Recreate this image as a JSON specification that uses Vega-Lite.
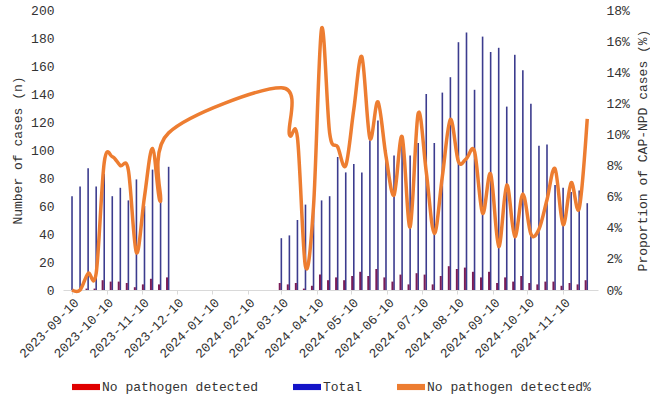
{
  "$schema": "https://vega.github.io/schema/vega-lite/v6.json",
  "width": 535,
  "height": 280,
  "autosize": {"type": "none"},
  "padding": {"left": 63, "top": 10, "right": 52, "bottom": 109},
  "background": "white",
  "config": {
    "view": {"stroke": null},
    "font": "Liberation Mono",
    "axis": {"labelFont": "Liberation Mono", "titleFont": "Liberation Mono", "labelColor": "#333333", "titleColor": "#333333", "grid": false, "titleFontWeight": "normal", "labelOverlap": false}
  },
  "datasets": {
    "weekly": [
      {"date": "2023-09-10", "total": 67, "npd": 0, "pct": 0},
      {"date": "2023-09-17", "total": 74, "npd": 0, "pct": 0},
      {"date": "2023-09-24", "total": 87, "npd": 1, "pct": 1.07},
      {"date": "2023-10-01", "total": 74, "npd": 1, "pct": 1.07},
      {"date": "2023-10-08", "total": 83, "npd": 7, "pct": 8.2},
      {"date": "2023-10-15", "total": 67, "npd": 6, "pct": 8.57},
      {"date": "2023-10-22", "total": 73, "npd": 6, "pct": 8.0},
      {"date": "2023-10-29", "total": 64, "npd": 5, "pct": 7.7},
      {"date": "2023-11-05", "total": 79, "npd": 2, "pct": 2.4},
      {"date": "2023-11-12", "total": 60, "npd": 4, "pct": 6.0},
      {"date": "2023-11-19", "total": 86, "npd": 8, "pct": 9.1},
      {"date": "2023-11-26", "total": 63, "npd": 4, "pct": 5.7},
      {"date": "2023-12-03", "total": 88, "npd": 9, "pct": 10.1},
      {"date": "2024-03-10", "total": 37, "npd": 5, "pct": 13.0},
      {"date": "2024-03-17", "total": 39, "npd": 4, "pct": 10.0},
      {"date": "2024-03-24", "total": 50, "npd": 5, "pct": 9.8},
      {"date": "2024-03-31", "total": 61, "npd": 1, "pct": 1.5},
      {"date": "2024-04-07", "total": 58, "npd": 3, "pct": 5.4},
      {"date": "2024-04-14", "total": 64, "npd": 11, "pct": 16.8},
      {"date": "2024-04-21", "total": 67, "npd": 7, "pct": 10.1},
      {"date": "2024-04-28", "total": 95, "npd": 9, "pct": 9.2},
      {"date": "2024-05-05", "total": 84, "npd": 7, "pct": 8.0},
      {"date": "2024-05-12", "total": 90, "npd": 10, "pct": 11.6},
      {"date": "2024-05-19", "total": 84, "npd": 13, "pct": 15.0},
      {"date": "2024-05-26", "total": 107, "npd": 10, "pct": 9.75},
      {"date": "2024-06-02", "total": 121, "npd": 15, "pct": 12.1},
      {"date": "2024-06-09", "total": 100, "npd": 9, "pct": 8.6},
      {"date": "2024-06-16", "total": 96, "npd": 6, "pct": 6.1},
      {"date": "2024-06-23", "total": 108, "npd": 11, "pct": 9.86},
      {"date": "2024-06-30", "total": 96, "npd": 4, "pct": 4.05},
      {"date": "2024-07-07", "total": 105, "npd": 12, "pct": 11.36},
      {"date": "2024-07-14", "total": 140, "npd": 11, "pct": 7.6},
      {"date": "2024-07-21", "total": 105, "npd": 4, "pct": 3.64},
      {"date": "2024-07-28", "total": 141, "npd": 10, "pct": 7.3},
      {"date": "2024-08-04", "total": 152, "npd": 17, "pct": 10.97},
      {"date": "2024-08-11", "total": 177, "npd": 15, "pct": 8.25},
      {"date": "2024-08-18", "total": 184, "npd": 16, "pct": 8.46},
      {"date": "2024-08-25", "total": 143, "npd": 13, "pct": 8.9},
      {"date": "2024-09-01", "total": 181, "npd": 9, "pct": 4.93},
      {"date": "2024-09-08", "total": 170, "npd": 13, "pct": 7.46},
      {"date": "2024-09-15", "total": 173, "npd": 5, "pct": 2.79},
      {"date": "2024-09-22", "total": 131, "npd": 9, "pct": 6.75},
      {"date": "2024-09-29", "total": 168, "npd": 6, "pct": 3.43},
      {"date": "2024-10-06", "total": 157, "npd": 10, "pct": 6.17},
      {"date": "2024-10-13", "total": 133, "npd": 5, "pct": 3.6},
      {"date": "2024-10-20", "total": 103, "npd": 4, "pct": 3.9},
      {"date": "2024-10-27", "total": 104, "npd": 6, "pct": 5.8},
      {"date": "2024-11-03", "total": 75, "npd": 6, "pct": 7.8},
      {"date": "2024-11-10", "total": 73, "npd": 3, "pct": 4.2},
      {"date": "2024-11-17", "total": 70, "npd": 5, "pct": 6.9},
      {"date": "2024-11-24", "total": 71, "npd": 4, "pct": 5.25},
      {"date": "2024-12-01", "total": 62, "npd": 7, "pct": 11.0}
    ],
    "legendItems": [
      {"series": "No pathogen detected"},
      {"series": "Total"},
      {"series": "No pathogen detected%"}
    ]
  },
  "layer": [
    {
      "data": {"name": "weekly"},
      "encoding": {
        "x": {
          "field": "date",
          "type": "temporal",
          "scale": {
            "type": "utc",
            "domain": [
              {"year": 2023, "month": 9, "date": 6, "hours": 12, "utc": true},
              {"year": 2024, "month": 12, "date": 6, "utc": true}
            ]
          },
          "axis": {
            "title": null,
            "values": [
              {"year": 2023, "month": 9, "date": 10, "utc": true},
              {"year": 2023, "month": 10, "date": 10, "utc": true},
              {"year": 2023, "month": 11, "date": 10, "utc": true},
              {"year": 2023, "month": 12, "date": 10, "utc": true},
              {"year": 2024, "month": 1, "date": 10, "utc": true},
              {"year": 2024, "month": 2, "date": 10, "utc": true},
              {"year": 2024, "month": 3, "date": 10, "utc": true},
              {"year": 2024, "month": 4, "date": 10, "utc": true},
              {"year": 2024, "month": 5, "date": 10, "utc": true},
              {"year": 2024, "month": 6, "date": 10, "utc": true},
              {"year": 2024, "month": 7, "date": 10, "utc": true},
              {"year": 2024, "month": 8, "date": 10, "utc": true},
              {"year": 2024, "month": 9, "date": 10, "utc": true},
              {"year": 2024, "month": 10, "date": 10, "utc": true},
              {"year": 2024, "month": 11, "date": 10, "utc": true}
            ],
            "tickCount": 40,
            "labelExpr": "utcFormat(datum.value, '%Y-%m-%d')",
            "labelAngle": -45,
            "labelFontSize": 13,
            "labelPadding": 2,
            "domainColor": "#d9d9d9",
            "tickColor": "#d9d9d9",
            "tickSize": 4,
            "labelOverlap": false,
            "labelFlush": false
          }
        }
      },
      "layer": [
        {
          "mark": {"type": "bar", "width": 1.6, "color": "#3c3c8e"},
          "encoding": {
            "y": {
              "field": "total",
              "type": "quantitative",
              "scale": {"domain": [0, 200], "nice": false},
              "axis": {
                "title": "Number of cases (n)",
                "values": [0, 20, 40, 60, 80, 100, 120, 140, 160, 180, 200],
                "tickCount": 40,
                "domain": false,
                "ticks": false,
                "labelPadding": 9,
                "labelFontSize": 13,
                "titleFontSize": 13,
                "titlePadding": 6,
                "labelOverlap": false,
                "labelFlush": false
              }
            }
          }
        },
        {
          "mark": {"type": "bar", "width": 2, "xOffset": -1.6, "color": "#7a1d58"},
          "encoding": {
            "y": {"field": "npd", "type": "quantitative"}
          }
        }
      ]
    },
    {
      "data": {"name": "weekly"},
      "mark": {"type": "line", "interpolate": "cardinal", "color": "#ed7d31", "strokeWidth": 3.5},
      "encoding": {
        "x": {"field": "date", "type": "temporal"},
        "y": {
          "field": "pct",
          "type": "quantitative",
          "scale": {"domain": [0, 18], "nice": false},
          "axis": {
            "orient": "right",
            "title": "Proportion of CAP-NPD cases (%)",
            "values": [0, 2, 4, 6, 8, 10, 12, 14, 16, 18],
            "tickCount": 40,
            "labelExpr": "datum.value + '%'",
            "domain": false,
            "ticks": false,
            "labelPadding": 8,
            "labelFontSize": 13,
            "titleFontSize": 13,
            "titleAngle": -90,
            "titlePadding": 20,
            "labelOverlap": false,
            "labelFlush": false
          }
        }
      }
    },
    {
      "data": {"name": "legendItems"},
      "mark": {"type": "square", "opacity": 0},
      "encoding": {
        "color": {
          "field": "series",
          "type": "nominal",
          "scale": {
            "domain": ["No pathogen detected", "Total", "No pathogen detected%"],
            "range": ["#e00000", "#1414c8", "#ed7d31"]
          },
          "legend": {
            "title": null,
            "orient": "none",
            "direction": "horizontal",
            "legendX": 9,
            "legendY": 363,
            "symbolType": "M-1,-0.22H1V0.22H-1Z",
            "symbolSize": 784,
            "symbolOpacity": 1,
            "symbolStrokeWidth": 0,
            "labelFont": "Liberation Mono",
            "labelFontSize": 13,
            "labelColor": "#333333",
            "labelOffset": 2,
            "columnPadding": 34,
            "labelLimit": 400
          }
        }
      }
    }
  ],
  "resolve": {"scale": {"y": "independent", "color": "independent"}}
}
